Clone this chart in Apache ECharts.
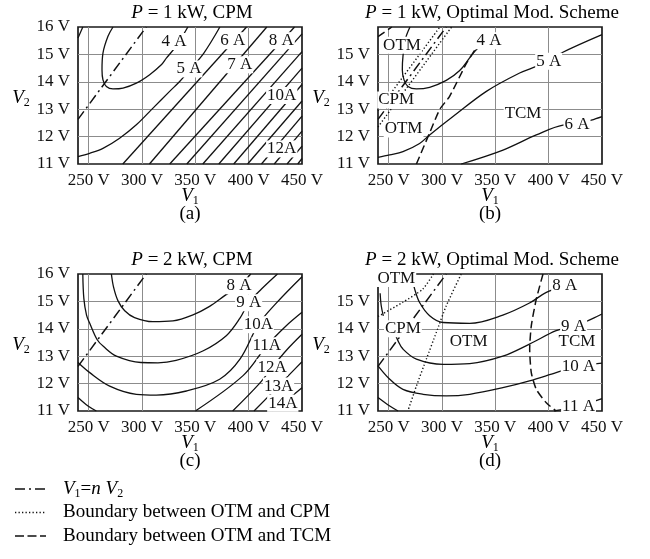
<!DOCTYPE html>
<html>
<head>
<meta charset="UTF-8">
<title>Current contours</title>
<script src="https://cdn.jsdelivr.net/npm/echarts@6/dist/echarts.min.js"></script>
<style>body{margin:0;background:#fff;}</style>
</head>
<body>
<div id="main" style="width:650px;height:559px;"></div>
<script type="text/javascript">
// axis ranges
var v1Range = [240, 450];
var v2Range = [11, 16];

// ---- (a) P = 1 kW, CPM ----
var aNV = [[240, 12.63], [304, 16]];
var aCorner = [[240, 15.6], [244.5, 16]];
var a4A = [[272.8, 16], [268.1, 15.66], [263.4, 15.05], [262.5, 14.44], [263.4, 14.07], [266.6, 13.83], [272.8, 13.74], [282.2, 13.77], [294.7, 13.95], [307.2, 14.26], [318.1, 14.62], [323, 14.87], [332, 15.3], [343, 16]];
var a5A = [[240, 11.27], [250.9, 11.39], [263.4, 11.57], [279, 11.94], [294.7, 12.43], [310.3, 13.04], [325.9, 13.65], [335.3, 14.01], [345, 14.45], [358, 15.05], [373, 16]];
var a6A = [[282, 11], [398, 16]];
var a7A = [[307, 11], [417, 16]];
var a8A = [[326, 11], [443, 16]];
var a9A = [[342, 11], [450, 15.75]];
var a10A = [[357, 11], [450, 15.1]];
var a11A = [[372, 11], [450, 14.5]];
var a12A = [[386, 11], [450, 13.9]];
var a13A = [[399, 11], [450, 13.3]];
var a14A = [[412, 11], [450, 12.75]];
var a15A = [[424, 11], [450, 12.2]];
var a16A = [[436, 11], [450, 11.65]];
var a17A = [[446, 11], [450, 11.2]];
var aLabels = [[330, 15.47, '4 A'], [344, 14.47, '5 A'], [385, 15.5, '6 A'], [391.6, 14.62, '7 A'], [430.6, 15.5, '8 A'], [431, 13.5, '10A'], [431, 11.55, '12A']];

// ---- (b) P = 1 kW, optimal scheme ----
var bNV = [[240, 12.63], [304, 16]];
var bDotL = [[240, 12.95], [298, 16]];
var bDotR = [[240, 12.35], [309, 16]];
var bDashCorner = [[240, 15.65], [253, 16]];
var bDash = [[276, 11], [288, 12.1], [298, 13], [307, 13.46], [323, 14.68], [332, 15.23]];
var b4A = [[270, 16], [266, 15.6], [263.4, 14.93], [262.8, 14.44], [264.4, 14.07], [268.1, 13.83], [275.9, 13.74], [288.4, 13.8], [304, 14.05], [316.6, 14.41], [325.9, 14.87], [332.8, 15.2], [344, 15.5]];
var b5A = [[240, 11.24], [250.9, 11.33], [263.4, 11.45], [279, 11.75], [288.4, 12.06], [310.3, 12.73], [341.6, 13.65], [372.8, 14.32], [388.4, 14.56], [400, 14.75], [411.9, 15.05], [450, 15.72]];
var b6A = [[318, 11], [357.2, 11.51], [388.4, 12.06], [413.4, 12.42], [426.6, 12.45], [440, 12.6], [450, 12.73]];
var bLabels = [[262.5, 15.33, 'OTM'], [344, 15.5, '4 A'], [400, 14.75, '5 A'], [257, 13.34, 'CPM'], [264, 12.28, 'OTM'], [376, 12.83, 'TCM'], [426.6, 12.43, '6 A']];

// ---- (c) P = 2 kW, CPM ----
var cNV = [[240, 12.63], [304, 16]];
var c8A = [[271.3, 16], [273.4, 15.51], [277.5, 15.02], [283.8, 14.66], [293, 14.41], [310.3, 14.26], [329, 14.29], [347.8, 14.51], [363.4, 14.82], [377.5, 15.21], [391, 15.57], [402, 16]];
var c9A = [[244.5, 16], [245.5, 15.1], [248, 14.5], [251, 14.2], [258, 13.6], [264, 13.35], [276, 13.0], [299, 12.77], [315, 12.76], [332, 12.85], [357, 13.19], [379, 13.75], [392, 14.4], [400, 14.95], [412, 15.45], [427, 16]];
var c10A = [[240, 12.77], [251, 12.4], [269.7, 11.91], [294.7, 11.61], [313.4, 11.58], [341.6, 11.73], [372.8, 12.16], [392, 12.9], [409, 14.15], [425, 14.9], [450, 15.9]];
var c11Aleft = [[240, 11.49], [249.4, 11.18], [257.2, 11.0]];
var c11A = [[350, 11], [395, 12.3], [417, 13.38], [435, 14.1], [450, 14.6]];
var c12A = [[385, 11], [410, 12.0], [422, 12.59], [435, 13.2], [450, 13.8]];
var c13A = [[405, 11], [428, 11.91], [440, 12.4], [450, 12.8]];
var c14A = [[422, 11], [432, 11.28], [450, 11.85]];
var cLabels = [[391, 15.57, '8 A'], [400, 14.95, '9 A'], [409, 14.15, '10A'], [417, 13.38, '11A'], [422, 12.59, '12A'], [428, 11.91, '13A'], [432, 11.28, '14A']];

// ---- (d) P = 2 kW, optimal scheme ----
var dNV = [[240, 12.63], [304, 16]];
var dDot1 = [[240, 14.45], [263, 14.96], [282, 15.45], [292, 16]];
var dDot2 = [[318, 16], [304, 14.84], [294.7, 13.87], [285.3, 12.89], [276, 11.91], [268, 11]];
var dDash = [[394.7, 16], [388.4, 15.08], [383.7, 14.11], [382.2, 13.26], [383.7, 12.4], [388.4, 11.79], [397.8, 11.3], [407, 11]];
var dShort = [[242, 15.3], [243, 14.85], [245, 14.47]];
var d8A = [[271, 16], [274.4, 15.45], [279, 14.96], [288.4, 14.48], [301, 14.23], [326, 14.2], [357, 14.5], [382, 14.94], [397.8, 15.33], [415, 15.57]];
var d9A = [[254, 14.0], [258.8, 13.56], [263.4, 13.26], [276, 12.89], [301, 12.7], [326, 12.73], [357, 13.0], [382, 13.44], [407, 13.93], [423.4, 14.1], [437, 14.3], [450, 14.54]];
var d10A = [[240, 12.65], [251, 12.16], [263.4, 11.79], [282.2, 11.61], [304, 11.55], [326, 11.61], [357, 11.85], [382, 12.1], [407, 12.4], [428, 12.64], [450, 12.75]];
var d11Aleft = [[240, 11.49], [251, 11.18], [258.8, 11.0]];
var d11A = [[405, 11], [428, 11.18], [450, 11.45]];
var dLabels = [[257.2, 15.84, 'OTM'], [263.4, 14.0, 'CPM'], [325, 13.52, 'OTM'], [426.6, 13.52, 'TCM'], [415, 15.57, '8 A'], [423.4, 14.1, '9 A'], [428, 12.64, '10 A'], [428, 11.18, '11 A']];

// legend entries
var legendKinds = ['dashdot', 'dotted', 'dashed'];
var legendTexts = ['{i|V}{s|1}{n|=}{i|n}{n| }{i|V}{s|2}', '{n|Boundary between OTM and CPM}', '{n|Boundary between OTM and TCM}'];

var FONT = 'Liberation Serif';
var INK = '#111';

// plot rectangles
var grids = [
    {left: 78, top: 27, width: 224, height: 137},
    {left: 378, top: 27, width: 224, height: 137},
    {left: 78, top: 274, width: 224, height: 137},
    {left: 378, top: 274, width: 224, height: 137}
];

var panels = [
    {title: ' = 1 kW, CPM', tag: '(a)', hide16: false,
     solid: [aCorner, a4A, a5A, a6A, a7A, a8A, a9A, a10A, a11A, a12A, a13A, a14A, a15A, a16A, a17A],
     dashdot: [aNV], dotted: [], dashed: [], labels: aLabels},
    {title: ' = 1 kW, Optimal Mod. Scheme', tag: '(b)', hide16: true,
     solid: [b4A, b5A, b6A],
     dashdot: [bNV], dotted: [bDotL, bDotR], dashed: [bDashCorner, bDash], labels: bLabels},
    {title: ' = 2 kW, CPM', tag: '(c)', hide16: false,
     solid: [c8A, c9A, c10A, c11Aleft, c11A, c12A, c13A, c14A],
     dashdot: [cNV], dotted: [], dashed: [], labels: cLabels},
    {title: ' = 2 kW, Optimal Mod. Scheme', tag: '(d)', hide16: true,
     solid: [dShort, d8A, d9A, d10A, d11Aleft, d11A],
     dashdot: [dNV], dotted: [dDot1, dDot2], dashed: [dDash], labels: dLabels}
];

var lineStyles = {
    solid: {type: 'solid', width: 1.3},
    dashdot: {type: [10, 4, 2, 4], width: 1.5},
    dotted: {type: [1.3, 2.2], width: 1.4},
    dashed: {type: [8, 4], width: 1.5}
};

var richBase = {
    i: {fontFamily: FONT, fontStyle: 'italic', fontSize: 19, lineHeight: 22, color: INK},
    n: {fontFamily: FONT, fontSize: 19, lineHeight: 22, color: INK},
    s: {fontFamily: FONT, fontSize: 12, lineHeight: 22, verticalAlign: 'bottom', color: INK}
};

var xAxes = [], yAxes = [], series = [], graphics = [];
var gridOpts = grids.map(function (g) {
    return {left: g.left, top: g.top, width: g.width, height: g.height,
        show: true, borderColor: '#1a1a1a', borderWidth: 1.7, backgroundColor: 'transparent'};
});

panels.forEach(function (p, k) {
    var g = grids[k];
    xAxes.push({
        type: 'value', gridIndex: k, min: v1Range[0], max: v1Range[1], interval: 10,
        axisLine: {show: false}, axisTick: {show: false},
        axisLabel: {
            margin: 8, fontFamily: FONT, fontSize: 17, color: INK,
            formatter: function (v) { return Math.round(v) % 50 === 0 ? Math.round(v) + ' V' : ''; }
        },
        splitLine: {show: true, showMaxLine: false,
            lineStyle: {width: 1, color: ['rgba(0,0,0,0)', '#8c8c8c', 'rgba(0,0,0,0)', 'rgba(0,0,0,0)', 'rgba(0,0,0,0)']}}
    });
    yAxes.push({
        type: 'value', gridIndex: k, min: v2Range[0], max: v2Range[1], interval: 1,
        axisLine: {show: false}, axisTick: {show: false},
        axisLabel: {
            margin: 8, fontFamily: FONT, fontSize: 17, color: INK,
            formatter: function (v) { return (p.hide16 && v === 16) ? '' : v + ' V'; }
        },
        splitLine: {show: true, showMinLine: false, showMaxLine: false, lineStyle: {width: 1, color: '#8c8c8c'}}
    });

    ['solid', 'dashdot', 'dotted', 'dashed'].forEach(function (kind) {
        p[kind].forEach(function (d) {
            series.push({
                type: 'line', xAxisIndex: k, yAxisIndex: k,
                data: d, symbol: 'none', smooth: kind === 'solid' ? 0.35 : 0.2,
                silent: true, animation: false, z: 2,
                lineStyle: {color: INK, width: lineStyles[kind].width, type: lineStyles[kind].type}
            });
        });
    });

    // inline contour / mode labels, white box over the lines
    series.push({
        type: 'scatter', xAxisIndex: k, yAxisIndex: k, symbolSize: 1, z: 5,
        silent: true, animation: false,
        itemStyle: {color: '#fff', opacity: 1},
        data: p.labels.map(function (l) { return {value: [l[0], l[1]], name: l[2]}; }),
        label: {
            show: true, position: 'inside', formatter: '{b}',
            fontFamily: FONT, fontSize: 17, color: INK, opacity: 1,
            textBorderWidth: 0, textShadowBlur: 0,
            backgroundColor: '#fff', padding: [0, 1]
        }
    });

    var cx = g.left + g.width / 2;
    graphics.push({
        type: 'text', x: cx + 2, y: g.top - 14,
        style: {text: '{i|P}{n|' + p.title + '}', rich: richBase, align: 'center', verticalAlign: 'middle'}
    });
    graphics.push({
        type: 'text', x: cx, y: g.top + g.height + 32,
        style: {text: '{i|V}{s|1}', rich: richBase, align: 'center', verticalAlign: 'middle'}
    });
    graphics.push({
        type: 'text', x: cx, y: g.top + g.height + 50,
        style: {text: '{n|' + p.tag + '}', rich: richBase, align: 'center', verticalAlign: 'middle'}
    });
    graphics.push({
        type: 'text', x: g.left - 57, y: g.top + g.height / 2 + 2,
        style: {text: '{i|V}{s|2}', rich: richBase, align: 'center', verticalAlign: 'middle'}
    });
});

// key below the panels
legendKinds.forEach(function (kind, i) {
    var y = 489 + i * 23.5;
    graphics.push({
        type: 'line', shape: {x1: 15, y1: y, x2: 46, y2: y},
        style: {stroke: INK, lineWidth: lineStyles[kind].width,
            lineDash: kind === 'dotted' ? [1.3, 2.2] : (kind === 'dashed' ? [9, 3.5] : [10, 4, 2, 4])}
    });
    graphics.push({
        type: 'text', x: 63, y: y,
        style: {text: legendTexts[i], rich: richBase, align: 'left', verticalAlign: 'middle'}
    });
});

var option = {
    animation: false,
    backgroundColor: '#fff',
    grid: gridOpts,
    xAxis: xAxes,
    yAxis: yAxes,
    graphic: graphics,
    series: series
};

var myChart = echarts.init(document.getElementById('main'));
myChart.setOption(option);
</script>
</body>
</html>
